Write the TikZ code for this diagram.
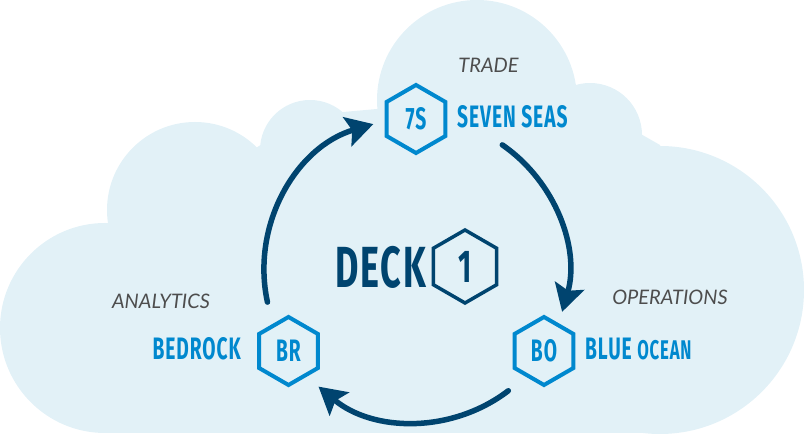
\documentclass[tikz,border=0pt]{standalone}
\usepackage{fontspec}
\usetikzlibrary{arrows.meta,shapes.geometric,calc}
\setmainfont{Lato}
\newfontfamily\condfont[FakeStretch=0.62,LetterSpace=3]{Fira Sans}
\definecolor{cloudc}{HTML}{E2F1F7}
\definecolor{darkc}{HTML}{00446F}
\definecolor{bluec}{HTML}{0088CE}
\definecolor{greyc}{HTML}{4D4D4D}
\tikzset{
  hexa/.style={regular polygon,regular polygon sides=6,shape border rotate=30,minimum size=68pt,inner sep=0pt,draw=bluec,line width=4pt,text=bluec,font=\condfont\bfseries\fontsize{31}{31}\selectfont},
  hexb/.style={regular polygon,regular polygon sides=6,shape border rotate=30,minimum size=73pt,inner sep=0pt,draw=darkc,line width=3.5pt,text=darkc,font=\condfont\bfseries\fontsize{46}{46}\selectfont},
  lblname/.style={text=bluec,inner sep=0pt,font=\condfont\bfseries\fontsize{31}{31}\selectfont},
  decktxt/.style={text=darkc,inner sep=0pt,font=\condfont\bfseries\fontsize{58}{58}\selectfont},
  lblrole/.style={text=greyc,inner sep=0pt,font=\itshape\fontsize{20}{20}\selectfont},
  flow/.style={draw=darkc,line width=5.5pt,line cap=round,-{Stealth[length=27pt,width=30pt,inset=5pt]}},
}
\begin{document}
\begin{tikzpicture}[x=1pt,y=1pt]
\useasboundingbox (0,0) rectangle (804,435);
% cloud
\fill[cloudc] (105,107) circle[radius=105]
  (195,225) circle[radius=88]
  (310,285) circle[radius=50]
  (477,335) circle[radius=100]
  (590,300) circle[radius=52]
  (660,145) circle[radius=144];
\fill[cloudc] (105,2) -- (660,2) -- (660,290) -- (590,330) -- (477,335) -- (310,320) -- (195,250) -- (105,200) -- cycle;
% nodes
\coordinate (hub) at (416,165);
\node[hexa] (seven) at (416,316) {7S};
\node[hexa] (ocean) at (544,84) {BO};
\node[hexa] (rock) at (288.5,84) {BR};
\node[hexb] (one) at (465,168.5) {1};
\node[decktxt,anchor=east] (deck) at (426,168) {DECK};
\node[lblname,anchor=west] (sevenname) at (457,318) {SEVEN SEAS};
\node[lblname,anchor=west] (oceanname) at (585,86) {BLUE {\fontsize{27}{27}\selectfont OCEAN}};
\node[lblname,anchor=east] (rockname) at (241,86) {BEDROCK};
\node[lblrole,anchor=center] (trade) at (488.5,370) {TRADE};
\node[lblrole,anchor=center] (ops) at (670,138) {OPERATIONS};
\node[lblrole,anchor=center] (ana) at (161,134) {ANALYTICS};
% connectors
\coordinate (s1) at ($(hub)+(55.4:152)$);
\coordinate (e1) at ($(hub)+(-16:152)$);
\coordinate (s2) at ($(hub)+(-52.6:152)$);
\coordinate (e2) at ($(hub)+(-129.9:152)$);
\coordinate (s3) at ($(hub)+(192.2:152)$);
\coordinate (e3) at ($(hub)+(106.3:152)$);
\draw[flow] (s1) to[bend left=35.7,looseness=0.94] (e1);
\draw[flow] (s2) to[bend left=38.65,looseness=0.956] (e2);
\draw[flow] (s3) to[bend left=42.95,looseness=0.984] (e3);
\end{tikzpicture}
\end{document}
